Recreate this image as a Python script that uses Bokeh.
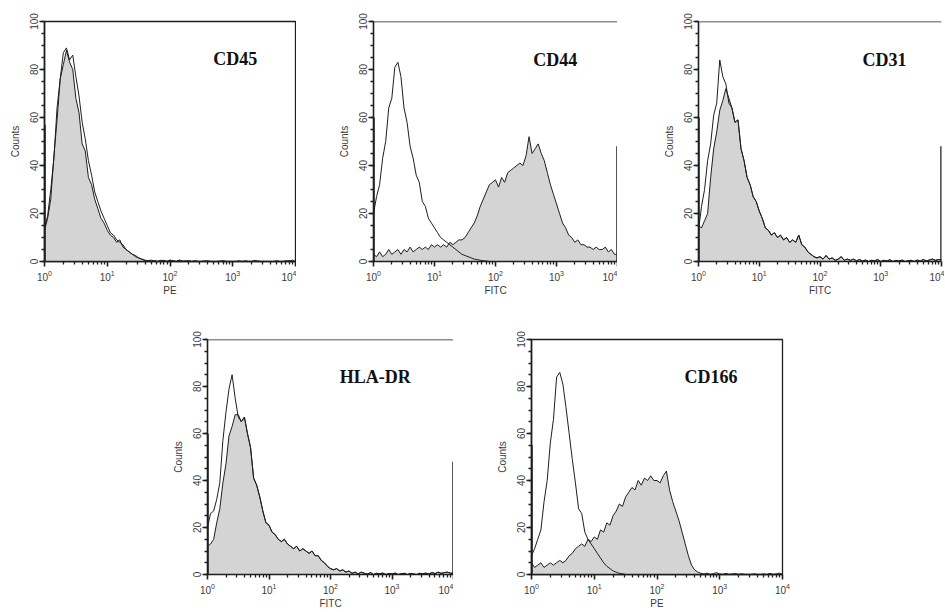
from bokeh.plotting import figure
from bokeh.layouts import column, row
from bokeh.models import Range1d, FixedTicker, SingleIntervalTicker, Label, Span
from bokeh.embed import file_html
from bokeh.resources import INLINE

# ---------------- data ----------------
log_channel = [
    0.00, 0.05, 0.10, 0.15, 0.20, 0.25, 0.30, 0.35, 0.40, 0.45,
    0.50, 0.55, 0.60, 0.65, 0.70, 0.75, 0.80, 0.85, 0.90, 0.95,
    1.00, 1.05, 1.10, 1.15, 1.20, 1.25, 1.30, 1.35, 1.40, 1.45,
    1.50, 1.55, 1.60, 1.65, 1.70, 1.75, 1.80, 1.85, 1.90, 1.95,
    2.00, 2.05, 2.10, 2.15, 2.20, 2.25, 2.30, 2.35, 2.40, 2.45,
    2.50, 2.55, 2.60, 2.65, 2.70, 2.75, 2.80, 2.85, 2.90, 2.95,
    3.00, 3.05, 3.10, 3.15, 3.20, 3.25, 3.30, 3.35, 3.40, 3.45,
    3.50, 3.55, 3.60, 3.65, 3.70, 3.75, 3.80, 3.85, 3.90, 3.95,
    4.00,
]

markers = ["CD45", "CD44", "CD31", "HLA-DR", "CD166"]
channels = ["PE", "FITC", "FITC", "FITC", "PE"]
x_tick_values = [1, 10, 100, 1000, 10000]
first_bin_counts = [57, 60, 60, 60, 55]
last_bin_counts = [0, 48, 48, 48, 0]

cd45_sample = [
    13, 18, 26, 44, 59, 76, 82, 88, 83, 80,
    68, 62, 49, 46, 35, 32, 26, 22, 18, 16,
    13, 11, 10, 8, 9, 6, 5, 4, 3, 2.5,
    1.5, 1, 0.5, 0.3, 0, 0.4, 0, 0.2, 0.5, 0,
    0.6, 0.2, 0, 0.5, 0, 0.3, 0, 0, 0.2, 0,
    0, 0.3, 0, 0, 0, 0, 0.2, 0, 0, 0,
    0, 0, 0.3, 0, 0, 0, 0, 0, 0.2, 0,
    0, 0, 0, 0, 0.3, 0, 0, 0, 0.4, 0,
    0,
]
cd45_control = [
    14, 19, 30, 43, 64, 76, 87, 89, 84, 86,
    77, 69, 58, 51, 42, 36, 29, 25, 21, 18,
    15, 12, 11, 9, 8, 7, 5, 4, 3, 2,
    1.5, 1, 0.5, 0.3, 0.6, 0.2, 0, 0.5, 0.3, 0,
    0.5, 0.3, 0, 0.6, 0.2, 0, 0.4, 0, 0.3, 0,
    0, 0, 0.3, 0, 0, 0, 0, 0.4, 0, 0,
    0, 0, 0, 0, 0.3, 0, 0, 0.5, 0, 0,
    0, 0, 0, 0, 0, 0, 0, 0.3, 0, 0.6,
    0,
]

cd44_sample = [
    3, 2, 4, 2, 3, 5, 3, 4, 5, 3,
    5, 4, 6, 4, 5, 6, 5, 6, 5, 7,
    6, 7, 6, 7, 6, 8, 7, 8, 9, 9,
    10, 12, 14, 16, 19, 23, 26, 29, 32, 33,
    34, 31, 35, 33, 37, 38, 39, 40, 41, 40,
    44, 52, 45, 47, 49, 45, 42, 37, 32, 28,
    24, 20, 16, 14, 11, 10, 8, 9, 7, 7,
    6, 6, 5, 6, 5, 5, 6, 4, 5, 3,
    3,
]
cd44_control = [
    20, 27, 32, 43, 50, 64, 68, 81, 83, 77,
    64, 58, 48, 43, 36, 33, 25, 23, 18, 16,
    14, 12, 10, 9, 8, 7, 6, 5, 4, 3,
    2.5, 2, 1.5, 1, 0.8, 0.5, 0.3, 0.2, 0, 0,
    0, 0, 0, 0, 0, 0, 0, 0, 0, 0,
    0, 0, 0, 0, 0, 0, 0, 0, 0, 0,
    0, 0, 0, 0, 0, 0, 0, 0, 0, 0,
    0, 0, 0, 0, 0, 0, 0, 0, 0, 0,
    0,
]

cd31_sample = [
    15, 14, 17, 20, 35, 47, 54, 63, 67, 72,
    68, 64, 58, 59, 47, 42, 35, 32, 27, 25,
    21, 18, 14, 13, 11, 12, 10, 11, 9, 10,
    8, 9, 8, 11, 7, 6, 4, 3, 2, 1.5,
    2, 1, 2.5, 1, 1.5, 0.5, 1, 2, 0.5, 1,
    0.5, 1, 0.3, 0.8, 0.2, 0.6, 0, 0.5, 0.3, 0.8,
    0, 0.5, 0.2, 0.7, 0, 0.4, 0.2, 0.6, 0, 0.3,
    0.5, 0, 0.6, 0.2, 0.8, 0.3, 0.6, 1, 0.5, 0.8,
    0.8,
]
cd31_control = [
    13, 23, 30, 42, 49, 61, 66, 84, 77, 74,
    66, 64, 58, 59, 47, 42, 35, 32, 27, 25,
    21, 18, 14, 13, 11, 12, 10, 11, 9, 10,
    8, 9, 8, 11, 7, 6, 4, 3, 2, 1.5,
    2, 1, 2.5, 1, 1.5, 0.5, 1, 2, 0.5, 1,
    0.5, 1, 0.3, 0.8, 0.2, 0.6, 0, 0.5, 0.3, 0.8,
    0, 0.5, 0.2, 0.7, 0, 0.4, 0.2, 0.6, 0, 0.3,
    0.5, 0, 0.6, 0.2, 0.8, 0.3, 0.6, 1, 0.5, 0.8,
    0.8,
]

hladr_sample = [
    12, 13, 15, 22, 28, 39, 47, 59, 63, 68,
    68, 65, 67, 60, 54, 41, 38, 33, 27, 22,
    21, 18, 17, 15, 14, 15, 13, 12, 11, 12,
    10, 11, 10, 9, 10, 8, 8, 6, 5, 3.5,
    2.5, 2, 2.5, 1.5, 2, 1, 1.5, 0.5, 1, 0.3,
    1, 0.5, 0.2, 0.8, 0, 0.5, 0.3, 0.6, 0, 0.4,
    0.2, 0.6, 0, 0.3, 0.5, 0, 0.4, 0.2, 0, 0.5,
    0.3, 0.6, 0.2, 0.8, 0.4, 1, 0.5, 0.8, 1, 0.6,
    0.5,
]
hladr_control = [
    20, 26, 27, 32, 39, 57, 69, 79, 85, 75,
    67, 65, 67, 60, 54, 41, 38, 33, 27, 22,
    21, 18, 17, 15, 14, 15, 13, 12, 11, 12,
    10, 11, 10, 9, 10, 8, 8, 6, 5, 3.5,
    2.5, 2, 2.5, 1.5, 2, 1, 1.5, 0.5, 1, 0.3,
    1, 0.5, 0.2, 0.8, 0, 0.5, 0.3, 0.6, 0, 0.4,
    0.2, 0.6, 0, 0.3, 0.5, 0, 0.4, 0.2, 0, 0.5,
    0.3, 0.6, 0.2, 0.8, 0.4, 1, 0.5, 0.8, 1, 0.6,
    0.5,
]

cd166_sample = [
    5, 3, 4, 5, 3, 4, 5, 4, 5, 6,
    5, 6, 8, 9, 11, 12, 13, 12, 15, 14,
    16, 15, 19, 18, 22, 21, 25, 27, 30, 29,
    33, 35, 37, 36, 40, 38, 41, 40, 42, 40,
    40, 39, 42, 44, 36, 31, 27, 23, 18, 13,
    8, 4, 2, 1, 0.5, 0.2, 0.6, 0, 0.4, 0.8,
    0.2, 0, 0.5, 0, 0.2, 0.4, 0, 0.3, 0, 0,
    0, 0.3, 0, 0, 0.2, 0, 0.5, 0, 0.2, 0.6,
    0,
]
cd166_control = [
    8, 11, 15, 19, 31, 40, 56, 66, 84, 86,
    81, 71, 60, 49, 39, 28, 26, 18, 15, 13,
    11, 9, 7, 5, 3.5, 2.5, 1.5, 1, 0.5, 0.3,
    0, 0, 0, 0, 0, 0, 0, 0, 0, 0,
    0, 0, 0, 0, 0, 0, 0, 0, 0, 0,
    0, 0, 0, 0, 0, 0, 0, 0, 0, 0,
    0, 0, 0, 0, 0, 0, 0, 0, 0, 0,
    0, 0, 0, 0, 0, 0, 0, 0, 0, 0,
    0,
]

samples = [cd45_sample, cd44_sample, cd31_sample, hladr_sample, cd166_sample]
controls = [cd45_control, cd44_control, cd31_control, hladr_control, cd166_control]
for s, c in zip(samples, controls):
    assert len(s) == len(log_channel) and len(c) == len(log_channel)

fluorescence = [10 ** v for v in log_channel]

# ---------------- layout / style ----------------
# (width, height, border left, right, top, bottom, full outline, label log-x, label y)
panel_layout = [
    (296, 301, 44, 1, 21, 40, True, 2.69, 84.5),
    (321, 301, 77, 0, 21, 40, False, 2.62, 84.0),
    (327, 301, 81, 3, 21, 40, False, 2.70, 84.0),
    (453, 310, 207, 0, 38, 32, False, 2.15, 84.0),
    (491, 310, 78, 162, 38, 32, True, 2.44, 84.0),
]

INK = "#1e1e1e"
FILL = "#d4d4d4"
TICK_FONT = "Liberation Sans"

minor_x = [d * k for d in [1, 10, 100, 1000] for k in range(2, 10)]

figs = []
for i, name in enumerate(markers):
    w, h, bl, br, bt, bb, full, lx, ly = panel_layout[i]
    p = figure(width=w, height=h, x_axis_type="log",
               x_range=Range1d(1, 10000), y_range=Range1d(0, 100),
               output_backend="svg", toolbar_location=None,
               min_border_left=bl, min_border_right=br,
               min_border_top=bt, min_border_bottom=bb)
    p.grid.visible = False
    if full:
        p.outline_line_color = INK
        p.outline_line_width = 1.3
        p.outline_line_alpha = 1.0
    else:
        p.outline_line_color = None
        p.add_layout(Span(location=100, dimension="width",
                          line_color=INK, line_width=1.3))

    # histograms
    p.varea(x=fluorescence, y1=0, y2=samples[i], fill_color=FILL)
    p.line(fluorescence, samples[i], line_color=INK, line_width=1.0)
    p.line(fluorescence, controls[i], line_color=INK, line_width=1.0)
    # off-scale accumulation in first / last channels
    p.segment(x0=[x_tick_values[0]], y0=[0], x1=[x_tick_values[0]],
              y1=[first_bin_counts[i]], line_color=INK, line_width=2.5)
    if last_bin_counts[i] > 0:
        p.segment(x0=[x_tick_values[-1]], y0=[0], x1=[x_tick_values[-1]],
                  y1=[last_bin_counts[i]], line_color=INK, line_width=2.5)

    # axes (default log formatter renders 10 with superscript exponent)
    xa = p.xaxis[0]
    xa.ticker = FixedTicker(ticks=x_tick_values, minor_ticks=minor_x)
    xa.axis_label = channels[i]
    ya = p.yaxis[0]
    ya.ticker = SingleIntervalTicker(interval=20, num_minor_ticks=4)
    ya.axis_label = "Counts"
    ya.major_label_orientation = "vertical"
    for ax in (xa, ya):
        ax.axis_line_color = INK
        ax.axis_line_width = 1.6
        ax.major_tick_line_color = INK
        ax.major_tick_line_width = 1.6
        ax.minor_tick_line_color = INK
        ax.minor_tick_line_width = 1.3
        ax.major_tick_in = 0
        ax.major_tick_out = 5
        ax.minor_tick_in = 0
        ax.minor_tick_out = 3
        ax.major_label_text_font = TICK_FONT
        ax.major_label_text_font_size = "10px"
        ax.major_label_text_color = "#3a3a3a"
        ax.axis_label_text_font = TICK_FONT
        ax.axis_label_text_font_size = "10px"
        ax.axis_label_text_font_style = "normal"
        ax.axis_label_text_color = "#3a3a3a"
    xa.major_label_standoff = 3
    xa.axis_label_standoff = 1
    ya.major_label_standoff = 2
    ya.axis_label_standoff = 6

    p.add_layout(Label(x=10 ** lx, y=ly, text=name,
                       text_font="Liberation Serif", text_font_style="bold",
                       text_font_size="18px", text_color="#111111",
                       text_baseline="alphabetic"))
    figs.append(p)

layout = column(row(figs[0], figs[1], figs[2]), row(figs[3], figs[4]))

with open("out.html", "w") as f:
    f.write(file_html(layout, INLINE))
